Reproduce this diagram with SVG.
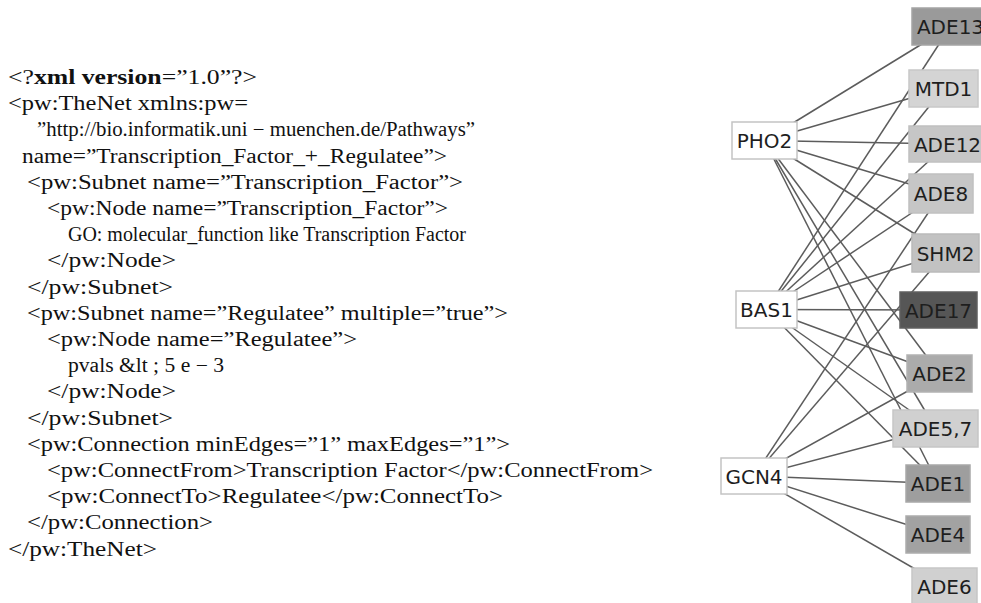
<svg xmlns="http://www.w3.org/2000/svg" width="981" height="603" viewBox="0 0 981 603">
  <style>
    .code { font-family: "Liberation Serif", "Times New Roman", serif; font-size: 20px; fill: #111; }
    .b { font-weight: bold; }
    .edge { stroke: #5c5c5c; stroke-width: 1.5; fill: none; }
    .tf rect { fill: #ffffff; stroke: #c4c4c4; stroke-width: 1.5; }
    .tg rect { stroke-width: 1.5; }
    .lbl { font-family: "DejaVu Sans", Verdana, sans-serif; font-size: 20px; fill: #1e1e1e; text-anchor: middle; }
  </style>

  <rect x="0" y="0" width="981" height="603" fill="#ffffff"/>

  <!-- XML network description -->
  <g id="xml-listing">
    <text class="code" x="8" y="84" textLength="249" lengthAdjust="spacingAndGlyphs">&lt;?<tspan class="b">xml version</tspan>=”1.0”?&gt;</text>
    <text class="code" x="8" y="110" textLength="240" lengthAdjust="spacingAndGlyphs">&lt;pw:TheNet xmlns:pw=</text>
    <text class="code" x="37" y="136" textLength="438" lengthAdjust="spacingAndGlyphs">”http://bio.informatik.uni − muenchen.de/Pathways”</text>
    <text class="code" x="22" y="163" textLength="425" lengthAdjust="spacingAndGlyphs">name=”Transcription_Factor_+_Regulatee”&gt;</text>
    <text class="code" x="27" y="189" textLength="436" lengthAdjust="spacingAndGlyphs">&lt;pw:Subnet name=”Transcription_Factor”&gt;</text>
    <text class="code" x="47" y="215" textLength="401" lengthAdjust="spacingAndGlyphs">&lt;pw:Node name=”Transcription_Factor”&gt;</text>
    <text class="code" x="68" y="241" textLength="398" lengthAdjust="spacingAndGlyphs">GO: molecular_function like Transcription Factor</text>
    <text class="code" x="47" y="267" textLength="129" lengthAdjust="spacingAndGlyphs">&lt;/pw:Node&gt;</text>
    <text class="code" x="27" y="294" textLength="146" lengthAdjust="spacingAndGlyphs">&lt;/pw:Subnet&gt;</text>
    <text class="code" x="27" y="320" textLength="481" lengthAdjust="spacingAndGlyphs">&lt;pw:Subnet name=”Regulatee” multiple=”true”&gt;</text>
    <text class="code" x="47" y="346" textLength="310" lengthAdjust="spacingAndGlyphs">&lt;pw:Node name=”Regulatee”&gt;</text>
    <text class="code" x="68" y="372" textLength="156" lengthAdjust="spacingAndGlyphs">pvals &amp;lt ; 5 e − 3</text>
    <text class="code" x="47" y="398" textLength="129" lengthAdjust="spacingAndGlyphs">&lt;/pw:Node&gt;</text>
    <text class="code" x="27" y="425" textLength="146" lengthAdjust="spacingAndGlyphs">&lt;/pw:Subnet&gt;</text>
    <text class="code" x="27" y="451" textLength="483" lengthAdjust="spacingAndGlyphs">&lt;pw:Connection minEdges=”1” maxEdges=”1”&gt;</text>
    <text class="code" x="47" y="477" textLength="606" lengthAdjust="spacingAndGlyphs">&lt;pw:ConnectFrom&gt;Transcription Factor&lt;/pw:ConnectFrom&gt;</text>
    <text class="code" x="47" y="503" textLength="456" lengthAdjust="spacingAndGlyphs">&lt;pw:ConnectTo&gt;Regulatee&lt;/pw:ConnectTo&gt;</text>
    <text class="code" x="27" y="529" textLength="186" lengthAdjust="spacingAndGlyphs">&lt;/pw:Connection&gt;</text>
    <text class="code" x="8" y="556" textLength="149" lengthAdjust="spacingAndGlyphs">&lt;/pw:TheNet&gt;</text>
  </g>

  <!-- regulatory edges, centre to centre, drawn beneath the node boxes -->
  <g id="edges" class="edge">
    <!-- PHO2 -->
    <line x1="764.5" y1="140.5" x2="950.5" y2="26.5"/>
    <line x1="764.5" y1="140.5" x2="943.5" y2="88.5"/>
    <line x1="764.5" y1="140.5" x2="947.5" y2="144"/>
    <line x1="764.5" y1="140.5" x2="941" y2="193.5"/>
    <line x1="764.5" y1="140.5" x2="945.5" y2="253"/>
    <line x1="764.5" y1="140.5" x2="939.5" y2="373.5"/>
    <line x1="764.5" y1="140.5" x2="935.5" y2="428.5"/>
    <line x1="764.5" y1="140.5" x2="938" y2="483.5"/>
    <!-- BAS1 -->
    <line x1="766.5" y1="309.5" x2="950.5" y2="26.5"/>
    <line x1="766.5" y1="309.5" x2="943.5" y2="88.5"/>
    <line x1="766.5" y1="309.5" x2="947.5" y2="144"/>
    <line x1="766.5" y1="309.5" x2="941" y2="193.5"/>
    <line x1="766.5" y1="309.5" x2="945.5" y2="253"/>
    <line x1="766.5" y1="309.5" x2="938.5" y2="310"/>
    <line x1="766.5" y1="309.5" x2="939.5" y2="373.5"/>
    <line x1="766.5" y1="309.5" x2="935.5" y2="428.5"/>
    <line x1="766.5" y1="309.5" x2="938" y2="483.5"/>
    <!-- GCN4 -->
    <line x1="754" y1="476" x2="941" y2="193.5"/>
    <line x1="754" y1="476" x2="945.5" y2="253"/>
    <line x1="754" y1="476" x2="939.5" y2="373.5"/>
    <line x1="754" y1="476" x2="935.5" y2="428.5"/>
    <line x1="754" y1="476" x2="938" y2="483.5"/>
    <line x1="754" y1="476" x2="938" y2="534.5"/>
    <line x1="754" y1="476" x2="944.5" y2="586"/>
  </g>

  <!-- transcription factors -->
  <g id="PHO2" class="tf"><rect x="732" y="122" width="65" height="37"/><text class="lbl" x="764.5" y="148">PHO2</text></g>
  <g id="BAS1" class="tf"><rect x="736" y="291" width="61" height="37"/><text class="lbl" x="766.5" y="317">BAS1</text></g>
  <g id="GCN4" class="tf"><rect x="721" y="458" width="66" height="36"/><text class="lbl" x="754" y="483.5">GCN4</text></g>

  <!-- regulated genes, shaded by value -->
  <g id="ADE13" class="tg"><rect x="912" y="8" width="77" height="37" fill="#9a9a9a" stroke="#a4a4a4"/><text class="lbl" x="950.5" y="34">ADE13</text></g>
  <g id="MTD1" class="tg"><rect x="909" y="70" width="69" height="37" fill="#d4d4d4" stroke="#c8c8c8"/><text class="lbl" x="943.5" y="96">MTD1</text></g>
  <g id="ADE12" class="tg"><rect x="909" y="126" width="77" height="36" fill="#c6c6c6" stroke="#c0c0c0"/><text class="lbl" x="947.5" y="151.5">ADE12</text></g>
  <g id="ADE8" class="tg"><rect x="909" y="174" width="64" height="39" fill="#c6c6c6" stroke="#c0c0c0"/><text class="lbl" x="941" y="201">ADE8</text></g>
  <g id="SHM2" class="tg"><rect x="912" y="234" width="67" height="38" fill="#c2c2c2" stroke="#bababa"/><text class="lbl" x="945.5" y="260.5">SHM2</text></g>
  <g id="ADE17" class="tg"><rect x="900" y="292" width="77" height="36" fill="#565656" stroke="#606060"/><text class="lbl" x="938.5" y="317.5">ADE17</text></g>
  <g id="ADE2" class="tg"><rect x="907" y="355" width="65" height="37" fill="#ababab" stroke="#b2b2b2"/><text class="lbl" x="939.5" y="381">ADE2</text></g>
  <g id="ADE5_7" class="tg"><rect x="893" y="410" width="85" height="37" fill="#d0d0d0" stroke="#c6c6c6"/><text class="lbl" x="935.5" y="436">ADE5,7</text></g>
  <g id="ADE1" class="tg"><rect x="906" y="465" width="64" height="37" fill="#9e9e9e" stroke="#a8a8a8"/><text class="lbl" x="938" y="491">ADE1</text></g>
  <g id="ADE4" class="tg"><rect x="906" y="516" width="64" height="37" fill="#a2a2a2" stroke="#acacac"/><text class="lbl" x="938" y="542">ADE4</text></g>
  <g id="ADE6" class="tg"><rect x="912" y="568" width="65" height="37" fill="#d0d0d0" stroke="#c6c6c6"/><text class="lbl" x="944.5" y="594">ADE6</text></g>
</svg>
